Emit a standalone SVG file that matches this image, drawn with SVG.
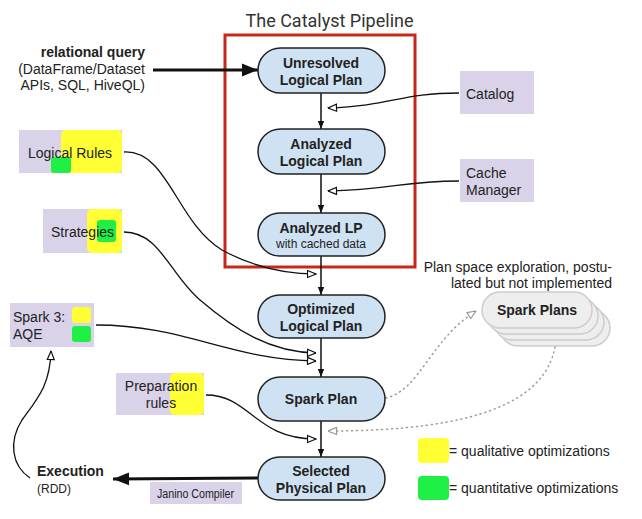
<svg xmlns="http://www.w3.org/2000/svg" width="642" height="519" viewBox="0 0 642 519">
<defs>
<style>
text{font-family:"Liberation Sans",Arial,sans-serif;fill:#222;}
.t14{font-size:14px;}
.b14{font-size:14px;font-weight:bold;}
.node{fill:#cfe2f3;stroke:#222;stroke-width:1.5;}
.lav{fill:#d9d2e9;}
.yel{fill:#ffff33;}
.grn{fill:#1ef046;}
.main{stroke:#111;stroke-width:1.5;fill:none;}
.in{stroke:#111;stroke-width:1.3;fill:none;}
.thick{stroke:#111;stroke-width:3;fill:none;}
.dot{stroke:#999;stroke-width:1.5;fill:none;stroke-dasharray:1 4;stroke-linecap:round;}
.sp{fill:#eeeeee;stroke:#cccccc;stroke-width:1.5;}
</style>
<marker id="fill" viewBox="0 0 10 10" refX="10" refY="5" markerWidth="8" markerHeight="8" markerUnits="userSpaceOnUse" orient="auto"><path d="M0,1 L10,5 L0,9 z" fill="#111"/></marker>
<marker id="open" viewBox="0 0 10 10" refX="9.5" refY="5" markerWidth="10" markerHeight="10" markerUnits="userSpaceOnUse" orient="auto"><path d="M1,1.5 L9.5,5 L1,8.5 z" fill="#fff" stroke="#111" stroke-width="1.2"/></marker>
<marker id="grey" viewBox="0 0 10 10" refX="9.5" refY="5" markerWidth="10" markerHeight="10" markerUnits="userSpaceOnUse" orient="auto"><path d="M1,1.5 L9.5,5 L1,8.5 z" fill="#fff" stroke="#999" stroke-width="1.2"/></marker>
<marker id="big" viewBox="0 0 16 14" refX="16" refY="7" markerWidth="16" markerHeight="14" markerUnits="userSpaceOnUse" orient="auto"><path d="M0,0.5 L16,7 L0,13.5 z" fill="#111"/></marker>
</defs>
<rect width="642" height="519" fill="#fff"/>

<text x="329.5" y="27" text-anchor="middle" style="font-family:Roboto,'Liberation Sans',sans-serif;font-size:18px;fill:#333">The Catalyst Pipeline</text>

<rect id="catalyst-box" x="225" y="35" width="190" height="232" fill="none" stroke="#c8261a" stroke-width="3"/>

<g id="connectors">
<line class="thick" x1="153" y1="70" x2="258" y2="70" marker-end="url(#big)"/>
<line class="main" x1="321" y1="93" x2="321" y2="129" marker-end="url(#fill)"/>
<line class="main" x1="321" y1="174" x2="321" y2="213" marker-end="url(#fill)"/>
<line class="main" x1="321" y1="256" x2="321" y2="295" marker-end="url(#fill)"/>
<line class="main" x1="321" y1="338" x2="321" y2="377" marker-end="url(#fill)"/>
<line class="main" x1="321" y1="421" x2="321" y2="457" marker-end="url(#fill)"/>
<path class="in" d="M459,93 C400,93 392,106 328,108" marker-end="url(#open)"/>
<path class="in" d="M459,181 C400,181 392,190 328,191" marker-end="url(#open)"/>
<path class="in" d="M124,152 C168,150 176,222 222,250 C255,268 285,274 316,274" marker-end="url(#open)"/>
<path class="in" d="M124,232 C160,232 170,275 200,300 C235,330 270,352 316,353" marker-end="url(#open)"/>
<path class="in" d="M96,325 C185,325 230,360 316,361" marker-end="url(#open)"/>
<path class="in" d="M206,395 C250,395 255,439 316,439" marker-end="url(#open)"/>
<path class="thick" d="M258,478 L113,479" marker-end="url(#big)"/>
<path class="in" d="M30,478 C12,466 8,442 22,420 C38,398 50,385 51,351" marker-end="url(#open)"/>
<path class="dot" d="M386,398 C420,390 430,340 476,311" marker-end="url(#grey)"/>
<path class="dot" d="M555,347 C545,400 480,431 328,431" marker-end="url(#grey)"/>
</g>

<g id="relational-query">
<text class="b14" x="145" y="57" text-anchor="end">relational query</text>
<text class="t14" x="145" y="74" text-anchor="end">(DataFrame/Dataset</text>
<text class="t14" x="145" y="90" text-anchor="end">APIs, SQL, HiveQL)</text>
</g>

<g id="unresolved">
<rect class="node" x="258" y="48" width="127" height="45" rx="22.5"/>
<text class="b14" x="321" y="68" text-anchor="middle">Unresolved</text>
<text class="b14" x="321" y="85" text-anchor="middle">Logical Plan</text>
</g>
<g id="analyzed">
<rect class="node" x="258" y="129" width="127" height="45" rx="22.5"/>
<text class="b14" x="321" y="149" text-anchor="middle">Analyzed</text>
<text class="b14" x="321" y="166" text-anchor="middle">Logical Plan</text>
</g>
<g id="analyzed-lp">
<rect class="node" x="258" y="213" width="127" height="43" rx="21.5"/>
<text class="b14" x="321" y="233" text-anchor="middle">Analyzed LP</text>
<text x="321" y="248" text-anchor="middle" style="font-size:12px">with cached data</text>
</g>
<g id="optimized">
<rect class="node" x="258" y="295" width="127" height="43" rx="21.5"/>
<text class="b14" x="321" y="314" text-anchor="middle">Optimized</text>
<text class="b14" x="321" y="331" text-anchor="middle">Logical Plan</text>
</g>
<g id="spark-plan">
<rect class="node" x="258" y="377" width="127" height="44" rx="22"/>
<text class="b14" x="321" y="404" text-anchor="middle">Spark Plan</text>
</g>
<g id="selected">
<rect class="node" x="258" y="457" width="127" height="43" rx="21.5"/>
<text class="b14" x="321" y="476" text-anchor="middle">Selected</text>
<text class="b14" x="321" y="493" text-anchor="middle">Physical Plan</text>
</g>

<g id="catalog">
<rect class="lav" x="460" y="71" width="74" height="43"/>
<text class="t14" x="466" y="99">Catalog</text>
</g>
<g id="cache-manager">
<rect class="lav" x="460" y="159" width="74" height="43"/>
<text class="t14" x="466" y="178">Cache</text>
<text class="t14" x="466" y="195">Manager</text>
</g>

<g id="logical-rules">
<rect class="lav" x="19" y="130" width="103" height="43"/>
<rect class="yel" x="61" y="130" width="61" height="43" rx="5"/>
<rect class="grn" x="51" y="157" width="20" height="16" rx="3"/>
<text class="t14" x="28" y="158">Logical Rules</text>
</g>
<g id="strategies">
<rect class="lav" x="43" y="209" width="79" height="44"/>
<rect class="yel" x="87" y="209" width="35" height="44" rx="5"/>
<rect class="grn" x="97" y="220" width="19" height="22" rx="3"/>
<text class="t14" x="51" y="237">Strategies</text>
</g>
<g id="aqe">
<rect class="lav" x="10" y="303" width="84" height="44"/>
<rect class="yel" x="72" y="307" width="19" height="16" rx="3"/>
<rect class="grn" x="72" y="326" width="19" height="16" rx="3"/>
<text class="t14" x="13" y="322">Spark 3:</text>
<text class="t14" x="13" y="339">AQE</text>
</g>
<g id="preparation">
<rect class="lav" x="116" y="373" width="88" height="42"/>
<rect class="yel" x="170" y="373" width="34" height="42" rx="5"/>
<text class="t14" x="161" y="391" text-anchor="middle">Preparation</text>
<text class="t14" x="161" y="408" text-anchor="middle">rules</text>
</g>

<g id="execution">
<text class="b14" x="37" y="476">Execution</text>
<text x="37" y="493" style="font-size:12px">(RDD)</text>
</g>
<g id="janino">
<rect class="lav" x="150" y="482" width="92" height="22"/>
<text x="157" y="498" style="font-size:12px" textLength="77" lengthAdjust="spacingAndGlyphs">Janino Compiler</text>
</g>

<g id="plan-note">
<text class="t14" x="612" y="272" text-anchor="end">Plan space exploration, postu-</text>
<text class="t14" x="612" y="288" text-anchor="end">lated but not implemented</text>
</g>
<g id="spark-plans">
<rect class="sp" x="500" y="310" width="110" height="36" rx="18"/>
<rect class="sp" x="494" y="304" width="110" height="36" rx="18"/>
<rect class="sp" x="488" y="298" width="110" height="36" rx="18"/>
<rect class="sp" x="482" y="292" width="110" height="36" rx="18"/>
<text class="b14" x="537" y="315" text-anchor="middle">Spark Plans</text>
</g>

<g id="legend">
<rect class="yel" x="418" y="438" width="31" height="25" rx="4"/>
<text class="t14" x="449" y="456">= qualitative optimizations</text>
<rect class="grn" x="418" y="476" width="31" height="24" rx="4"/>
<text class="t14" x="449" y="493">= quantitative optimizations</text>
</g>
</svg>
